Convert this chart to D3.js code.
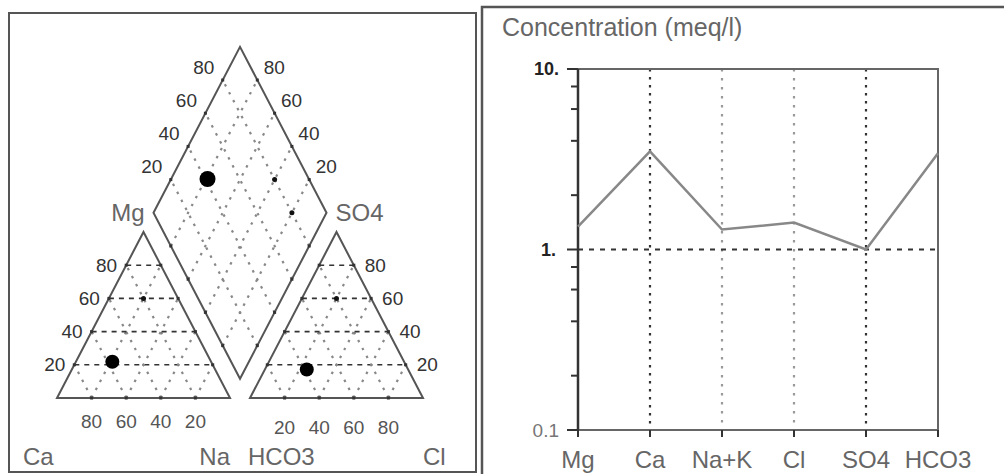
<!DOCTYPE html>
<html>
<head>
<meta charset="utf-8">
<script src="https://cdn.jsdelivr.net/npm/d3@7"></script>
<style>
  body { margin: 0; background: #fff; }
  text { font-family: "Liberation Sans", Arial, sans-serif; }
</style>
</head>
<body>
<div id="chart"></div>
<script>
// ===== data =====
var ions = ["Mg", "Ca", "Na+K", "Cl", "SO4", "HCO3"];
var conc = [1.34, 3.5, 1.29, 1.41, 1.0, 3.41];   // meq/l
var majorTicks = [0.1, 1, 10];
var majorLabels = ["0.1", "1.", "10."];
var minorTicks = [0.2, 0.4, 0.6, 0.8, 2, 4, 6, 8];
var pctTicks = [20, 40, 60, 80];
var cationCorners = ["Ca", "Na", "Mg"];
var anionCorners = ["HCO3", "Cl", "SO4"];
// small grid marks : [triangle, a, b] in percent
var gridMarks = [["cat", 20, 60], ["an", 20, 60], ["dia", 20, 80], ["dia", 40, 80]];

var svg = d3.select("#chart")
            .append("svg")
            .attr("width", 1004)
            .attr("height", 474);

// ===== PIPER (left panel) =====
function piper()
{
  var h = Math.sqrt(3) / 2;
  var g = 0.1156;   // gap between the two triangles

  var px = d3.scaleLinear().domain([0, 2 + g]).range([57, 423]);
  var py = d3.scaleLinear().domain([0, h]).range([398, 232]);

  // position helpers, fractions 0..1
  function cat(na, mg) { return [px(na + mg / 2), py(mg * h)]; }
  function an(cl, so4) { return [px(1 + g + cl + so4 / 2), py(so4 * h)]; }
  function dia(p, q) { return [px(1 + g / 2 - p / 2 + q / 2), py(g * h + (p + q) * h)]; }
  var pos = {cat: cat, an: an, dia: dia};

  var line = d3.line();

  svg.append("rect")
     .attr("x", 9).attr("y", 13)
     .attr("width", 467).attr("height", 459)
     .attr("fill", "none")
     .attr("stroke", "#555")
     .attr("stroke-width", 2);

  var grid = svg.append("g");
  var fr = pctTicks.map(function(t) { return t / 100; });

  fr.forEach(function(t) {
    // cation triangle
    grid.append("path").attr("class", "dot").attr("d", line([cat(t, 0), cat(t, 1 - t)]));
    grid.append("path").attr("class", "dot").attr("d", line([cat(1 - t, 0), cat(0, 1 - t)]));
    grid.append("path").attr("class", "dash").attr("d", line([cat(0, t), cat(1 - t, t)]));
    // anion triangle
    grid.append("path").attr("class", "dot").attr("d", line([an(t, 0), an(t, 1 - t)]));
    grid.append("path").attr("class", "dot").attr("d", line([an(1 - t, 0), an(0, 1 - t)]));
    grid.append("path").attr("class", "dash").attr("d", line([an(0, t), an(1 - t, t)]));
    // diamond
    grid.append("path").attr("class", "dot").attr("d", line([dia(t, 0), dia(t, 1)]));
    grid.append("path").attr("class", "dot").attr("d", line([dia(0, t), dia(1, t)]));
  });

  grid.selectAll("path.dot")
      .attr("fill", "none")
      .attr("stroke", "#888")
      .attr("stroke-width", 2.2)
      .attr("stroke-dasharray", "2.5,6.5");

  grid.selectAll("path.dash")
      .attr("fill", "none")
      .attr("stroke", "#333")
      .attr("stroke-width", 1.6)
      .attr("stroke-dasharray", "5,5");

  // outlines
  var outlines = [
    [cat(0, 0), cat(1, 0), cat(0, 1)],
    [an(0, 0), an(1, 0), an(0, 1)],
    [dia(0, 0), dia(1, 0), dia(1, 1), dia(0, 1)]
  ];
  svg.selectAll("path.outline")
     .data(outlines)
     .enter()
     .append("path")
     .attr("class", "outline")
     .attr("d", function(d) { return line(d) + "Z"; })
     .attr("fill", "none")
     .attr("stroke", "#555")
     .attr("stroke-width", 2);

  // tick dots on every edge
  var edgePts = [];
  fr.forEach(function(t) {
    edgePts.push(cat(t, 0), cat(0, t), cat(1 - t, t));
    edgePts.push(an(t, 0), an(0, t), an(1 - t, t));
    edgePts.push(dia(t, 0), dia(0, t), dia(1, t), dia(t, 1));
  });
  svg.selectAll("rect.edge")
     .data(edgePts)
     .enter()
     .append("rect")
     .attr("class", "edge")
     .attr("x", function(d) { return d[0] - 1.5; })
     .attr("y", function(d) { return d[1] - 1.5; })
     .attr("width", 3).attr("height", 3)
     .attr("fill", "#333");

  svg.selectAll("circle.mark")
     .data(gridMarks)
     .enter()
     .append("circle")
     .attr("class", "mark")
     .attr("cx", function(d) { return pos[d[0]](d[1] / 100, d[2] / 100)[0]; })
     .attr("cy", function(d) { return pos[d[0]](d[1] / 100, d[2] / 100)[1]; })
     .attr("r", 2.5)
     .attr("fill", "#111");

  // tick labels
  var lab = svg.append("g")
               .attr("font-size", "19px")
               .attr("fill", "#333");

  pctTicks.forEach(function(v) {
    var t = v / 100, p;
    p = cat(0, t);
    lab.append("text").attr("x", p[0] - 9).attr("y", p[1]).attr("dy", "0.35em")
       .attr("text-anchor", "end").text(v);
    p = cat(t, 0);
    lab.append("text").attr("x", p[0]).attr("y", 421).attr("dy", "0.35em")
       .attr("text-anchor", "middle").attr("fill", "#555").text(100 - v);
    p = an(1 - t, t);
    lab.append("text").attr("x", p[0] + 11).attr("y", p[1]).attr("dy", "0.35em")
       .attr("text-anchor", "start").text(v);
    p = an(t, 0);
    lab.append("text").attr("x", p[0]).attr("y", 427).attr("dy", "0.35em")
       .attr("text-anchor", "middle").attr("fill", "#555").text(v);
    p = dia(1, t);
    lab.append("text").attr("x", p[0] - 19).attr("y", p[1] - 13).attr("dy", "0.35em")
       .attr("text-anchor", "middle").text(v);
    p = dia(t, 1);
    lab.append("text").attr("x", p[0] + 17).attr("y", p[1] - 13).attr("dy", "0.35em")
       .attr("text-anchor", "middle").text(v);
  });

  // corner names
  var names = svg.append("g")
                 .attr("font-size", "24px")
                 .attr("fill", "#666");
  names.append("text").attr("x", 23).attr("y", 465).text(cationCorners[0]);
  names.append("text").attr("x", cat(1, 0)[0]).attr("y", 465).attr("text-anchor", "end").text(cationCorners[1]);
  names.append("text").attr("x", dia(1, 0)[0] - 9).attr("y", 221).attr("text-anchor", "end").text(cationCorners[2]);
  names.append("text").attr("x", an(0, 0)[0] - 2).attr("y", 465).text(anionCorners[0]);
  names.append("text").attr("x", an(1, 0)[0]).attr("y", 465).text(anionCorners[1]);
  names.append("text").attr("x", dia(0, 1)[0] + 9).attr("y", 221).text(anionCorners[2]);

  // the sample, from the same concentrations as the Schoeller plot
  var cTot = conc[0] + conc[1] + conc[2];
  var aTot = conc[3] + conc[4] + conc[5];
  var mg = conc[0] / cTot, na = conc[2] / cTot;
  var cl = conc[3] / aTot, so4 = conc[4] / aTot, hco3 = conc[5] / aTot;

  var samples = [
    {p: cat(na, mg), r: 7},
    {p: an(cl, so4), r: 7},
    {p: dia(1 - na, 1 - hco3), r: 8}
  ];
  svg.selectAll("circle.sample")
     .data(samples)
     .enter()
     .append("circle")
     .attr("class", "sample")
     .attr("cx", function(d) { return d.p[0]; })
     .attr("cy", function(d) { return d.p[1]; })
     .attr("r", function(d) { return d.r; })
     .attr("fill", "#000");
}

// ===== SCHOELLER (right panel) =====
function schoeller()
{
  var x = d3.scalePoint().domain(ions).range([578, 938]);
  var y = d3.scaleLog().domain([0.1, 10]).range([430, 69]);

  svg.append("path")
     .attr("d", "M482,474V7H1004")
     .attr("fill", "none")
     .attr("stroke", "#555")
     .attr("stroke-width", 2.5);

  svg.append("text")
     .attr("x", 502).attr("y", 36)
     .attr("font-size", "25px")
     .attr("fill", "#666")
     .text("Concentration (meq/l)");

  // vertical dotted grid
  svg.selectAll("line.vgrid")
     .data(ions.slice(1, 5))
     .enter()
     .append("line")
     .attr("class", "vgrid")
     .attr("x1", function(d) { return x(d); })
     .attr("x2", function(d) { return x(d); })
     .attr("y1", y(10)).attr("y2", y(0.1))
     .attr("stroke", function(d) { return (d == "Ca" || d == "SO4") ? "#333" : "#999"; })
     .attr("stroke-width", 2.2)
     .attr("stroke-dasharray", function(d) { return (d == "Ca" || d == "SO4") ? "2.5,5.5" : "2.5,6.5"; });

  // dashed line at 1
  svg.append("line")
     .attr("x1", x("Mg")).attr("x2", x("HCO3"))
     .attr("y1", y(1)).attr("y2", y(1))
     .attr("stroke", "#333")
     .attr("stroke-width", 1.8)
     .attr("stroke-dasharray", "5,6");

  // frame
  svg.append("path")
     .attr("d", "M" + x("Mg") + "," + y(10) + "H" + x("HCO3") + "V" + y(0.1) + "H" + x("Mg"))
     .attr("fill", "none")
     .attr("stroke", "#666")
     .attr("stroke-width", 2);

  svg.append("line")
     .attr("x1", x("Mg")).attr("x2", x("Mg"))
     .attr("y1", y(10)).attr("y2", y(0.1))
     .attr("stroke", "#333")
     .attr("stroke-width", 2.5);

  // y ticks
  svg.selectAll("line.major")
     .data(majorTicks)
     .enter()
     .append("line")
     .attr("class", "major")
     .attr("x1", x("Mg") - 11).attr("x2", x("Mg"))
     .attr("y1", function(d) { return y(d); })
     .attr("y2", function(d) { return y(d); })
     .attr("stroke", "#333")
     .attr("stroke-width", 2);

  svg.selectAll("line.minor")
     .data(minorTicks)
     .enter()
     .append("line")
     .attr("class", "minor")
     .attr("x1", x("Mg") - 7).attr("x2", x("Mg"))
     .attr("y1", function(d) { return y(d); })
     .attr("y2", function(d) { return y(d); })
     .attr("stroke", "#333")
     .attr("stroke-width", 2);

  svg.selectAll("text.ylab")
     .data(majorTicks)
     .enter()
     .append("text")
     .attr("class", "ylab")
     .attr("x", function(d) { return d == 1 ? 556 : 559; })
     .attr("y", function(d) { return y(d); })
     .attr("dy", "0.35em")
     .attr("text-anchor", "end")
     .attr("font-size", function(d) { return d == 0.1 ? "19px" : "18px"; })
     .attr("font-weight", function(d) { return d == 0.1 ? "normal" : "bold"; })
     .attr("fill", function(d) { return d == 0.1 ? "#777" : "#222"; })
     .text(function(d, i) { return majorLabels[i]; });

  // x ticks and labels
  svg.selectAll("line.xtick")
     .data(ions)
     .enter()
     .append("line")
     .attr("class", "xtick")
     .attr("x1", function(d) { return x(d); })
     .attr("x2", function(d) { return x(d); })
     .attr("y1", y(0.1)).attr("y2", y(0.1) + 7)
     .attr("stroke", "#333")
     .attr("stroke-width", 2);

  svg.selectAll("text.xlab")
     .data(ions)
     .enter()
     .append("text")
     .attr("class", "xlab")
     .attr("x", function(d) { return x(d); })
     .attr("y", 468)
     .attr("text-anchor", "middle")
     .attr("font-size", "24px")
     .attr("fill", "#666")
     .text(function(d) { return d; });

  // concentration line
  var line = d3.line()
               .x(function(d, i) { return x(ions[i]); })
               .y(function(d) { return y(d); });

  svg.append("path")
     .datum(conc)
     .attr("d", line)
     .attr("fill", "none")
     .attr("stroke", "#888")
     .attr("stroke-width", 2.5);
}

function init(){
  piper();
  schoeller();
}

window.onload = init;
</script>
</body>
</html>
